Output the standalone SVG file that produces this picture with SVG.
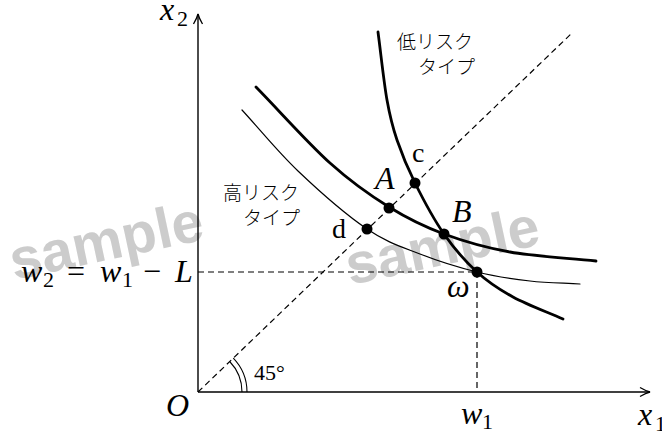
<svg xmlns="http://www.w3.org/2000/svg" width="662" height="434" viewBox="0 0 662 434">
<style>
.math{font-family:"Liberation Serif","DejaVu Serif",serif;font-style:italic;font-size:32px;fill:#000}
.rm{font-family:"Liberation Serif","DejaVu Serif",serif;font-size:32px;fill:#000}
.sm{font-family:"Liberation Serif","DejaVu Serif",serif;font-size:28px;fill:#000}
.deg{font-family:"Liberation Serif","DejaVu Serif",serif;font-size:22px;fill:#000}
.sub{font-family:"Liberation Serif","DejaVu Serif",serif;font-size:22px;fill:#000}
.jp{font-family:"Noto Sans CJK JP","Noto Sans CJK SC",sans-serif;font-size:19px;font-weight:300;fill:#000}
.wm{font-family:"Liberation Sans","DejaVu Sans",sans-serif;font-weight:bold;font-size:57px;fill:#c4c4c4;opacity:0.85}
.axis{fill:none;stroke:#000;stroke-width:1.4}
.arc{fill:none;stroke:#000;stroke-width:1.1}
.dash{fill:none;stroke:#000;stroke-width:1.2;stroke-dasharray:6 4}
.thick{fill:none;stroke:#000;stroke-width:2.8;stroke-linecap:round}
.thin{fill:none;stroke:#000;stroke-width:1.2;stroke-linecap:round}
.dot{fill:#000}
</style>
<defs>
<marker id="arr" viewBox="-12 -6 14 12" refX="0" refY="0" markerWidth="14" markerHeight="12" markerUnits="userSpaceOnUse" orient="auto">
<path d="M -10 -4.5 Q -4 -1 0 0 Q -4 1 -10 4.5" fill="none" stroke="#000" stroke-width="1.3"/>
</marker>
</defs>
<g id="watermark">
<text class="wm" x="14" y="280" transform="rotate(-12 14 280)">sample</text>
<text class="wm" x="350" y="285" transform="rotate(-12 350 285)">sample</text>
</g>
<g id="connectors">
<line class="axis" x1="198" y1="392" x2="198" y2="14" marker-end="url(#arr)"/>
<line class="axis" x1="198" y1="392" x2="650" y2="392" marker-end="url(#arr)"/>
<line class="dash" x1="198" y1="392" x2="572" y2="33"/>
<line class="dash" x1="198" y1="272" x2="477" y2="272"/>
<line class="dash" x1="477" y1="272" x2="477" y2="392"/>
<path class="arc" d="M 242 392 A 44 44 0 0 0 229.7 361.5 M 247 392 A 49 49 0 0 0 233.3 358.1"/>
</g>
<g id="curve-high-thick">
<path class="thick" d="M 256 87 C 280.7 112.3 307.8 143 330 163 C 352.2 183 370 195.2 389 207 C 408 218.8 423.8 226.5 444 234 C 464.2 241.5 484.7 247.5 510 252 C 535.3 256.5 567.3 258 596 261"/>
</g>
<g id="curve-high-thin">
<path class="thin" d="M 242 110 C 260.7 130.3 277.2 151.2 298 171 C 318.8 190.8 346.7 215.2 367 229 C 387.3 242.8 401.7 246.8 420 254 C 438.3 261.2 458.7 267.5 477 272 C 495.3 276.5 512.8 279 530 281 C 547.2 283 563.3 283 580 284"/>
</g>
<g id="curve-low">
<path class="thick" d="M 378 32 C 381 54.7 383.8 82 387 100 C 390.2 118 392.3 126.2 397 140 C 401.7 153.8 407.2 167.3 415 183 C 422.8 198.7 433.7 219.2 444 234 C 454.3 248.8 465.5 261.5 477 272 C 488.5 282.5 498.7 289.2 513 297 C 527.3 304.8 546.3 311.7 563 319"/>
</g>
<g id="point-A"><circle class="dot" cx="389" cy="208" r="5.5"/><text class="math" x="375" y="189">A</text></g>
<g id="point-c"><circle class="dot" cx="415" cy="183" r="5.5"/><text class="sm" x="412" y="162">c</text></g>
<g id="point-d"><circle class="dot" cx="367" cy="229" r="5.5"/><text class="sm" x="332" y="238">d</text></g>
<g id="point-B"><circle class="dot" cx="444" cy="234" r="5.5"/><text class="math" x="452" y="222">B</text></g>
<g id="point-omega"><circle class="dot" cx="477" cy="272" r="5.5"/><text class="math" x="447" y="297">ω</text></g>
<g id="label-x2"><text class="math" x="160" y="20">x</text><text class="sub" x="177" y="26">2</text></g>
<g id="label-x1"><text class="math" x="638" y="425">x</text><text class="sub" x="655" y="431">1</text></g>
<g id="label-O"><text class="math" x="166" y="416">O</text></g>
<g id="label-w1"><text class="math" x="461" y="424">w</text><text class="sub" x="482" y="429">1</text></g>
<g id="label-w2">
<text class="math" x="21" y="282">w</text><text class="sub" x="43" y="287">2</text>
<text class="rm" x="67" y="282">=</text>
<text class="math" x="100" y="282">w</text><text class="sub" x="122" y="287">1</text>
<text class="rm" x="143" y="282">−</text>
<text class="math" x="175" y="282">L</text>
</g>
<g id="label-45"><text class="deg" x="254" y="380">45°</text></g>
<g id="label-high"><text class="jp" x="223" y="200">高リスク</text><text class="jp" x="243" y="225">タイプ</text></g>
<g id="label-low"><text class="jp" x="397" y="49">低リスク</text><text class="jp" x="418" y="74">タイプ</text></g>
</svg>
